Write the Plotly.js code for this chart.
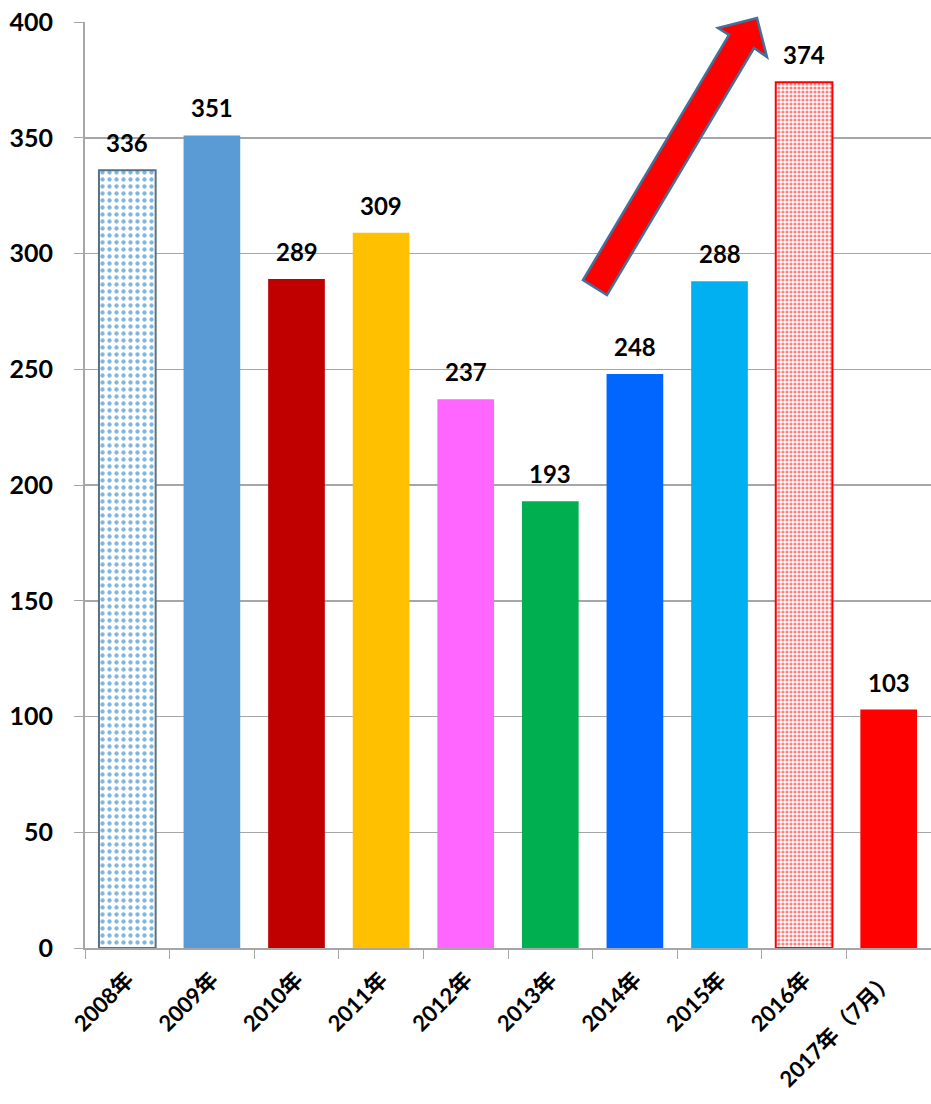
<!DOCTYPE html>
<html><head><meta charset="utf-8">
<script src="https://cdn.plot.ly/plotly-3.0.1.min.js"></script>
<style>body{margin:0;background:#fff}#c{width:931px;height:1104px}</style>
</head><body><div id="c"></div>
<script>
const categories = ['2008年','2009年','2010年','2011年','2012年','2013年','2014年','2015年','2016年','2017年（7月）'];
const values = [336, 351, 289, 309, 237, 193, 248, 288, 374, 103];
const barColors = ['#FFFFFF','#5B9BD5','#C00000','#FFC000','#FF66FF','#00B050','#0066FF','#00B0F0','#FFFFFF','#FF0000'];
const patterned = [true,false,false,false,false,false,false,false,true,false];
const dotColors = ['#0070C0','','','','','','','','#FF0000',''];
const outlineColors = ['#5A6E84','','','','','','','','#FF0000',''];
const yTicks = [0,50,100,150,200,250,300,350,400];

const FONT = 'Lato, "Noto Sans CJK JP", sans-serif';

const traces = [{
  type: 'bar', x: categories,
  y: values.map((v, i) => patterned[i] ? null : v),
  marker: {color: barColors, line: {width: 0}},
  hoverinfo: 'none'
}];
categories.forEach((c, i) => {
  if (!patterned[i]) return;
  const small = i === 8;
  traces.push({
    type: 'bar', x: [c], y: [values[i]],
    marker: {
      color: '#FFFFFF',
      line: {color: outlineColors[i], width: 2},
      pattern: {shape: '.', fillmode: 'overlay', fgcolor: dotColors[i], bgcolor: '#FFFFFF',
                size: small ? 4 : 7, solidity: small ? 0.5 : 0.3}
    },
    hoverinfo: 'none'
  });
});

const annotations = categories.map((c, i) => ({
  x: c, y: values[i], text: String(values[i]), showarrow: false,
  yanchor: 'bottom', yshift: 11,
  font: {family: FONT, size: 24, color: '#000', weight: 'bold'}
}));

function P(px, py) { return [((px - 85) / 846).toFixed(4), ((948 - py) / 926).toFixed(4)]; }
const pts = [[583,280],[729,35],[718,28],[757,18],[767,57],[754,48],[607,295]].map(p => P(p[0], p[1]));
const arrowPath = 'M ' + pts.map(p => p[0] + ',' + p[1]).join(' L ') + ' Z';

const layout = {
  width: 931, height: 1104,
  margin: {l: 85, r: 0, t: 22, b: 156},
  paper_bgcolor: '#fff', plot_bgcolor: '#fff',
  showlegend: false,
  barmode: 'overlay',
  bargap: 0.33,
  font: {family: FONT, color: '#000'},
  xaxis: {
    type: 'category', tickangle: -45, tickson: 'boundaries',
    ticks: 'outside', ticklen: 9, tickcolor: '#A6A6A6',
    ticklabelstandoff: 8,
    showline: true, linecolor: '#A6A6A6', linewidth: 2,
    showgrid: false,
    tickfont: {family: FONT, size: 22, color: '#000', weight: 'bold'}
  },
  yaxis: {
    range: [0, 400], tickvals: yTicks, ticktext: yTicks.map(String),
    ticks: 'outside', ticklen: 9, tickcolor: '#A6A6A6',
    ticklabelstandoff: 16,
    showline: true, linecolor: '#A6A6A6', linewidth: 2,
    showgrid: true, gridcolor: '#A6A6A6', gridwidth: 1.5,
    zeroline: false,
    tickfont: {family: FONT, size: 25, color: '#000', weight: 'bold'}
  },
  annotations: annotations,
  shapes: [{
    type: 'path', xref: 'paper', yref: 'paper', path: arrowPath,
    fillcolor: '#FF0000', line: {color: '#41719C', width: 2.5}, layer: 'above'
  }]
};

Plotly.newPlot('c', traces, layout, {staticPlot: true});
</script>
</body></html>
